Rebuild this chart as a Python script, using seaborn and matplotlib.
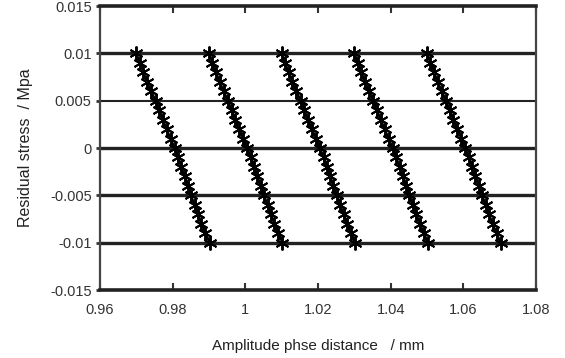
import matplotlib
matplotlib.use("Agg")
import matplotlib.pyplot as plt
import seaborn as sns
import pandas as pd

# Data
y_values = [0.010, 0.009, 0.008, 0.007, 0.006, 0.005, 0.004, 0.003, 0.002, 0.001, 0.000,
            -0.001, -0.002, -0.003, -0.004, -0.005, -0.006, -0.007, -0.008, -0.009, -0.010]
x_line1 = [0.9700, 0.9709, 0.9719, 0.9729, 0.9740, 0.9753, 0.9763, 0.9773, 0.9783, 0.9794, 0.9805,
           0.9815, 0.9824, 0.9833, 0.9842, 0.9850, 0.9860, 0.9869, 0.9879, 0.9890, 0.9902]
x_line2 = [0.9900, 0.9909, 0.9919, 0.9929, 0.9940, 0.9952, 0.9962, 0.9972, 0.9983, 0.9994, 1.0005,
           1.0015, 1.0024, 1.0033, 1.0042, 1.0051, 1.0061, 1.0070, 1.0080, 1.0091, 1.0102]
x_line3 = [1.0100, 1.0109, 1.0119, 1.0129, 1.0140, 1.0152, 1.0162, 1.0172, 1.0183, 1.0194, 1.0205,
           1.0215, 1.0224, 1.0233, 1.0242, 1.0251, 1.0261, 1.0270, 1.0280, 1.0291, 1.0302]
x_line4 = [1.0300, 1.0309, 1.0319, 1.0329, 1.0340, 1.0352, 1.0362, 1.0372, 1.0383, 1.0394, 1.0405,
           1.0415, 1.0424, 1.0433, 1.0442, 1.0451, 1.0461, 1.0470, 1.0480, 1.0491, 1.0502]
x_line5 = [1.0500, 1.0509, 1.0519, 1.0529, 1.0540, 1.0552, 1.0562, 1.0572, 1.0583, 1.0594, 1.0605,
           1.0615, 1.0624, 1.0633, 1.0642, 1.0651, 1.0661, 1.0670, 1.0680, 1.0691, 1.0702]
series_x = [x_line1, x_line2, x_line3, x_line4, x_line5]
x_ticks = [0.96, 0.98, 1.00, 1.02, 1.04, 1.06, 1.08]
x_tick_labels = ["0.96", "0.98", "1", "1.02", "1.04", "1.06", "1.08"]
y_ticks = [-0.015, -0.01, -0.005, 0, 0.005, 0.01, 0.015]
y_tick_labels = ["-0.015", "-0.01", "-0.005", "0", "0.005", "0.01", "0.015"]
thick_grid = [0.01, 0.0, -0.005, -0.01]
thin_grid = [0.005]

rows = []
for i, xs in enumerate(series_x):
    for xv, yv in zip(xs, y_values):
        rows.append({"x": xv, "y": yv, "series": f"s{i}"})
df = pd.DataFrame(rows)

sns.set_style("white")
plt.rcParams["font.family"] = ["Liberation Sans", "DejaVu Sans"]

fig = plt.figure(figsize=(5.65, 3.58), dpi=100)
ax = fig.add_axes([0.177, 1 - 290 / 358, 0.772, (290 - 6) / 358])

for g in thick_grid:
    ax.axhline(g, color="#222222", lw=2.4, zorder=1)
for g in thin_grid:
    ax.axhline(g, color="#222222", lw=1.5, zorder=1)

sns.lineplot(data=df, x="x", y="y", hue="series", palette=["black"] * 5,
             marker=(6, 2, 0), markersize=10, markeredgewidth=1.4,
             markeredgecolor="black", markerfacecolor="black",
             linewidth=1.8, sort=False, estimator=None, legend=False, ax=ax, zorder=3)

ax.set_xlim(0.96, 1.08)
ax.set_ylim(-0.015, 0.015)
ax.set_xticks(x_ticks)
ax.set_xticklabels(x_tick_labels)
ax.set_yticks(y_ticks)
ax.set_yticklabels(y_tick_labels)
ax.tick_params(axis="x", direction="in", top=True, bottom=True, length=5, width=1.5,
               color="#333333", labelsize=10.5, labelcolor="#333333", pad=9)
ax.tick_params(axis="y", direction="out", left=True, length=3, width=2,
               color="#333333", labelsize=10.5, labelcolor="#333333", pad=3)

for side in ["top", "bottom"]:
    ax.spines[side].set_color("#222222")
    ax.spines[side].set_linewidth(2.6)
for side in ["left", "right"]:
    ax.spines[side].set_color("#444444")
    ax.spines[side].set_linewidth(1.6)

ax.set_xlabel("Amplitude phse distance   / mm", fontsize=11, color="#222222", labelpad=16)
ax.set_ylabel("Residual stress  / Mpa", fontsize=11.5, color="#222222", labelpad=12)

fig.savefig("out.png", dpi=100)
